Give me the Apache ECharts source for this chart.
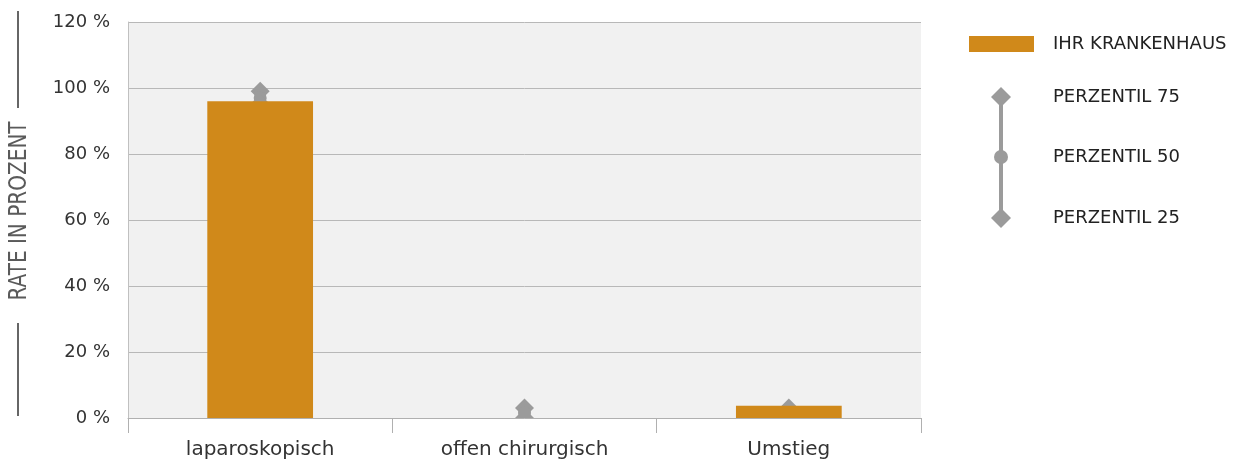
<!DOCTYPE html>
<html>
<head>
<meta charset="utf-8">
<script src="https://cdn.jsdelivr.net/npm/echarts@6/dist/echarts.min.js"></script>
<style>
  html, body { margin: 0; padding: 0; background: #fff; }
  #chart { width: 1239px; height: 467px; }
</style>
</head>
<body>
<div id="chart"></div>
<script>
// Categories and values (percent)
const categories = ['laparoskopisch', 'offen chirurgisch', 'Umstieg'];
const hospitalRate = [96, 0, 3.7];
const perzentil25 = [95.2, 0, 0];
const perzentil50 = [97, 1.5, 1.5];
const perzentil75 = [99, 3, 3];
const yTicks = [0, 20, 40, 60, 80, 100, 120];

const ORANGE = '#d0891a';
const GREY = '#9b9b9b';
const LEGEND_FONT = '18px "DejaVu Sans", sans-serif';

const chart = echarts.init(document.getElementById('chart'));

function diamond(cx, cy, r) {
  return { type: 'polygon', shape: { points: [[cx, cy - r], [cx + r, cy], [cx, cy + r], [cx - r, cy]] }, style: { fill: GREY } };
}

const percentileData = categories.map((c, i) => [i, perzentil25[i], perzentil50[i], perzentil75[i]]);

chart.setOption({
  animation: false,
  grid: { left: 128, right: 318, top: 22, bottom: 49, backgroundColor: '#f1f1f1', show: true, borderWidth: 0 },
  xAxis: {
    type: 'category',
    data: categories,
    axisLine: { show: true, lineStyle: { color: '#b0b0b0', width: 1 } },
    axisTick: { show: true, length: 15, lineStyle: { color: '#b0b0b0' } },
    axisLabel: { fontSize: 20, color: '#333', margin: 22, fontFamily: 'DejaVu Sans' }
  },
  yAxis: {
    type: 'value',
    min: yTicks[0],
    max: yTicks[yTicks.length - 1],
    interval: 20,
    axisLine: { show: true, lineStyle: { color: '#c0c0c0' } },
    axisTick: { show: false },
    axisLabel: { formatter: '{value} %', fontSize: 18, color: '#333', margin: 18, fontFamily: 'DejaVu Sans' },
    splitLine: { lineStyle: { color: '#b8b8b8', width: 1 } }
  },
  series: [
    {
      name: 'IHR KRANKENHAUS',
      type: 'bar',
      data: hospitalRate,
      barWidth: '40%',
      itemStyle: { color: ORANGE }
    },
    {
      name: 'PERZENTIL',
      type: 'custom',
      clip: true,
      data: percentileData,
      encode: { x: 0, y: [1, 2, 3] },
      renderItem: function (params, api) {
        const x = api.value(0);
        const p25 = api.coord([x, api.value(1)]);
        const p50 = api.coord([x, api.value(2)]);
        const p75 = api.coord([x, api.value(3)]);
        return {
          type: 'group',
          children: [
            { type: 'line', shape: { x1: p25[0], y1: p25[1], x2: p75[0], y2: p75[1] }, style: { stroke: GREY, lineWidth: 4 } },
            diamond(p75[0], p75[1], 9.5),
            { type: 'circle', shape: { cx: p50[0], cy: p50[1], r: 6.5 }, style: { fill: GREY } },
            diamond(p25[0], p25[1], 9.5)
          ]
        };
      }
    }
  ],
  graphic: [
    // Y axis title (condensed) with side rules
    { type: 'line', shape: { x1: 18, y1: 11, x2: 18, y2: 108 }, style: { stroke: '#666', lineWidth: 2 } },
    { type: 'line', shape: { x1: 18, y1: 323, x2: 18, y2: 416 }, style: { stroke: '#666', lineWidth: 2 } },
    {
      type: 'text', x: 20, y: 211, rotation: Math.PI / 2, scaleX: 0.835,
      style: { text: 'RATE IN PROZENT', fill: '#5a5a5a', font: '24px "DejaVu Sans", sans-serif', align: 'center', verticalAlign: 'middle' }
    },
    // Legend
    { type: 'rect', shape: { x: 969, y: 36, width: 65, height: 16 }, style: { fill: ORANGE } },
    { type: 'text', x: 1053, y: 44, style: { text: 'IHR KRANKENHAUS', fill: '#222', font: LEGEND_FONT, verticalAlign: 'middle' } },
    { type: 'line', shape: { x1: 1001, y1: 97, x2: 1001, y2: 218 }, style: { stroke: GREY, lineWidth: 4 } },
    diamond(1001, 97, 10),
    { type: 'circle', shape: { cx: 1001, cy: 157, r: 7 }, style: { fill: GREY } },
    diamond(1001, 218, 10),
    { type: 'text', x: 1053, y: 97, style: { text: 'PERZENTIL 75', fill: '#222', font: LEGEND_FONT, verticalAlign: 'middle' } },
    { type: 'text', x: 1053, y: 157, style: { text: 'PERZENTIL 50', fill: '#222', font: LEGEND_FONT, verticalAlign: 'middle' } },
    { type: 'text', x: 1053, y: 218, style: { text: 'PERZENTIL 25', fill: '#222', font: LEGEND_FONT, verticalAlign: 'middle' } }
  ]
});
</script>
</body>
</html>
